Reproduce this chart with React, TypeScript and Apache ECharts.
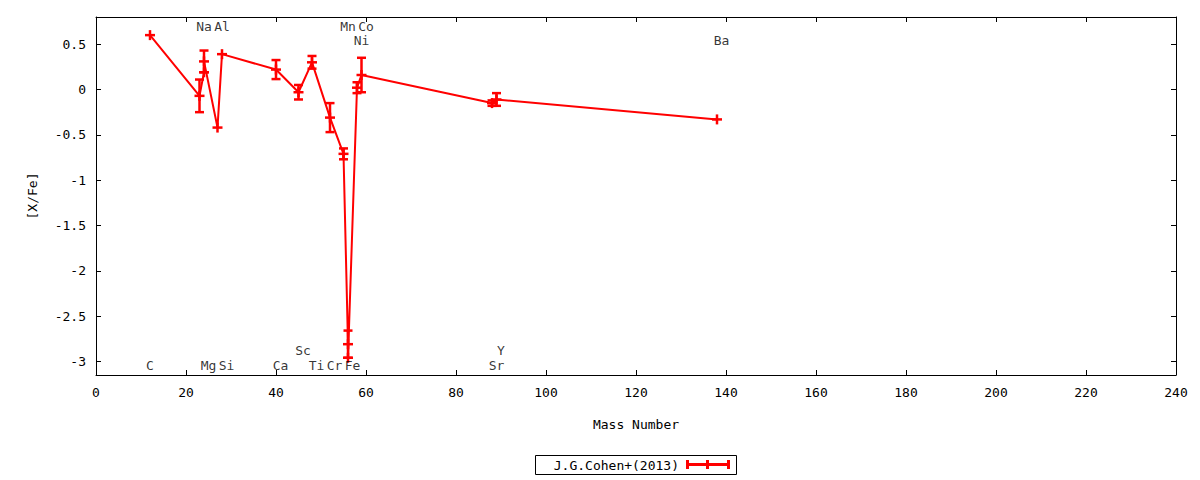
import React, { useEffect, useRef } from "react";
import * as echarts from "echarts";

// ---- data ----
const elements = ["C", "Na", "Mg", "Mg", "Al", "Si", "Ca", "Sc", "Ti", "Cr", "Mn", "Fe", "Fe", "Ni", "Co", "Sr", "Y", "Ba"];
const massNumbers = [12, 23, 24, 24, 27, 28, 40, 45, 48, 52, 55, 56, 56, 58, 59, 88, 89, 138];
const xFe = [0.6, -0.07, 0.19, 0.31, -0.42, 0.39, 0.22, -0.03, 0.3, -0.31, -0.71, -2.81, -2.96, 0.02, 0.16, -0.15, -0.11, -0.33];
const xFeErr = [0, 0.18, 0, 0.12, 0, 0, 0.105, 0.08, 0.07, 0.16, 0.06, 0.15, 0, 0.06, 0.19, 0.03, 0.07, 0];

// element name labels (gnuplot-style annotations, in data coordinates)
const labelNames = ["C", "Na", "Mg", "Al", "Si", "Ca", "Sc", "Ti", "Cr", "Mn", "Fe", "Ni", "Co", "Sr", "Y", "Ba"];
const labelMass = [12, 24, 25, 28, 29, 41, 46, 49, 53, 56, 57, 59, 60, 89, 90, 139];
const labelLevel = [-3.04, 0.695, -3.04, 0.695, -3.04, -3.04, -2.875, -3.04, -3.04, 0.695, -3.04, 0.54, 0.695, -3.04, -2.875, 0.54];

const xTicks = [0, 20, 40, 60, 80, 100, 120, 140, 160, 180, 200, 220, 240];
const yTicks = [0.5, 0, -0.5, -1, -1.5, -2, -2.5, -3];

const legendText = "J.G.Cohen+(2013)";
const xTitle = "Mass Number";
const yTitle = "[X/Fe]";

const FONT = "DejaVu Sans Mono";
const RED = "#ff0000";

export default function App() {
  const ref = useRef<HTMLDivElement>(null);

  useEffect(() => {
    if (!ref.current) return;
    const chart = echarts.init(ref.current, null, { renderer: "svg" });

    const points = massNumbers.map((m, i) => [m, xFe[i], xFeErr[i], elements[i]]);
    const textStyle = { color: "#000", fontFamily: FONT, fontSize: 13 };
    const axisLine = { show: true, onZero: false, lineStyle: { color: "#000", width: 1 } };
    const tickStyle = { color: "#000", width: 1 };

    const option: any = {
      animation: false,
      backgroundColor: "#fff",
      grid: { left: 96, right: 24, top: 17, bottom: 105, containLabel: false },
      xAxis: [
        {
          type: "value",
          min: 0,
          max: 240,
          interval: 20,
          position: "bottom",
          name: xTitle,
          nameLocation: "middle",
          nameGap: 43,
          nameTextStyle: textStyle,
          axisLine,
          axisTick: { show: true, inside: true, length: 5, lineStyle: tickStyle },
          axisLabel: { ...textStyle, margin: 11, customValues: xTicks },
          splitLine: { show: false },
        },
        {
          type: "value",
          min: 0,
          max: 240,
          interval: 20,
          position: "top",
          axisLine,
          axisTick: { show: true, inside: true, length: 5, lineStyle: tickStyle },
          axisLabel: { show: false },
          splitLine: { show: false },
        },
      ],
      yAxis: [
        {
          type: "value",
          min: -3.15,
          max: 0.8,
          position: "left",
          name: yTitle,
          nameLocation: "middle",
          nameGap: 57,
          nameTextStyle: textStyle,
          axisLine,
          axisTick: { show: true, inside: true, length: 5, lineStyle: tickStyle, customValues: yTicks },
          axisLabel: { ...textStyle, margin: 10, customValues: yTicks, formatter: (v: number) => String(v) },
          splitLine: { show: false },
        },
        {
          type: "value",
          min: -3.15,
          max: 0.8,
          position: "right",
          axisLine,
          axisTick: { show: true, inside: true, length: 5, lineStyle: tickStyle, customValues: yTicks },
          axisLabel: { show: false, customValues: yTicks },
          splitLine: { show: false },
        },
      ],
      series: [
        {
          type: "line",
          xAxisIndex: 0,
          yAxisIndex: 0,
          data: points.map((p) => [p[0], p[1]]),
          showSymbol: false,
          symbol: "none",
          lineStyle: { color: RED, width: 2 },
          z: 2,
          silent: true,
        },
        {
          type: "custom",
          xAxisIndex: 0,
          yAxisIndex: 0,
          data: points,
          encode: { x: 0, y: 1 },
          z: 3,
          silent: true,
          renderItem: (params: any, api: any) => {
            const x = api.value(0);
            const y = api.value(1);
            const e = api.value(2);
            const c = api.coord([x, y]);
            const style = { stroke: RED, lineWidth: 2.5 };
            const children: any[] = [];
            if (e > 0) {
              const t = api.coord([x, y + e]);
              const b = api.coord([x, y - e]);
              children.push({ type: "line", shape: { x1: t[0], y1: t[1], x2: b[0], y2: b[1] }, style });
              children.push({ type: "line", shape: { x1: t[0] - 4.5, y1: t[1], x2: t[0] + 4.5, y2: t[1] }, style });
              children.push({ type: "line", shape: { x1: b[0] - 4.5, y1: b[1], x2: b[0] + 4.5, y2: b[1] }, style });
            }
            children.push({ type: "line", shape: { x1: c[0] - 5, y1: c[1], x2: c[0] + 5, y2: c[1] }, style });
            children.push({ type: "line", shape: { x1: c[0], y1: c[1] - 5, x2: c[0], y2: c[1] + 5 }, style });
            return { type: "group", children };
          },
        },
        {
          type: "scatter",
          xAxisIndex: 0,
          yAxisIndex: 0,
          silent: true,
          symbolSize: 1,
          itemStyle: { color: "rgba(0,0,0,0)" },
          data: labelNames.map((n, i) => ({ name: n, value: [labelMass[i], labelLevel[i]] })),
          label: {
            show: true,
            position: "inside",
            formatter: "{b}",
            lineHeight: 10,
            ...textStyle,
          },
          labelLayout: { hideOverlap: false },
          z: 4,
        },
      ],
      graphic: [
        {
          type: "rect",
          shape: { x: 535.5, y: 455.5, width: 201, height: 19 },
          style: { fill: "none", stroke: "#000", lineWidth: 1 },
        },
        {
          type: "text",
          x: 679,
          y: 465,
          style: {
            text: legendText,
            align: "right",
            verticalAlign: "middle",
            font: `13px "${FONT}"`,
            fill: "#000",
          },
        },
        {
          type: "line",
          shape: { x1: 687, y1: 464.5, x2: 729, y2: 464.5 },
          style: { stroke: RED, lineWidth: 3 },
        },
        {
          type: "line",
          shape: { x1: 687.5, y1: 460, x2: 687.5, y2: 469 },
          style: { stroke: RED, lineWidth: 3 },
        },
        {
          type: "line",
          shape: { x1: 728.5, y1: 460, x2: 728.5, y2: 469 },
          style: { stroke: RED, lineWidth: 3 },
        },
        {
          type: "line",
          shape: { x1: 707.5, y1: 460, x2: 707.5, y2: 469 },
          style: { stroke: RED, lineWidth: 3 },
        },
      ],
    };

    chart.setOption(option);
    return () => {
      chart.dispose();
    };
  }, []);

  return (
    <div
      ref={ref}
      style={{ position: "fixed", left: 0, top: 0, width: 1200, height: 480, background: "#fff" }}
    />
  );
}
